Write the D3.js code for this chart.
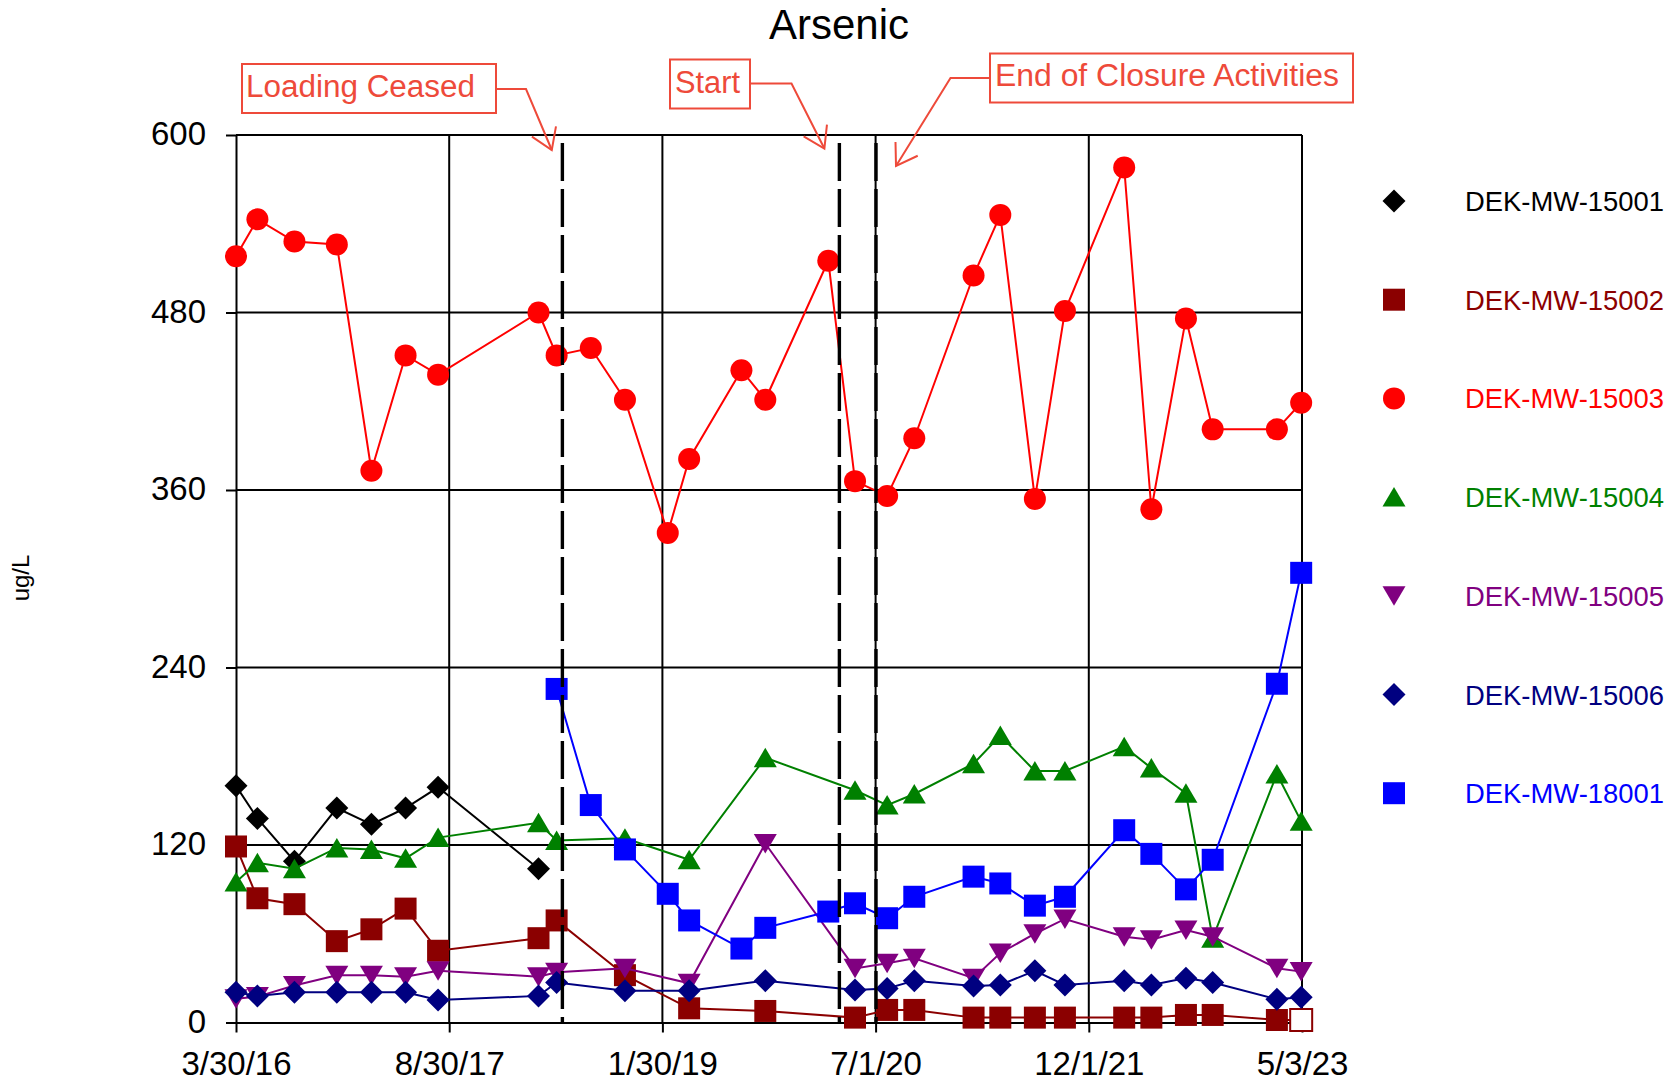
<!DOCTYPE html>
<html>
<head>
<meta charset="utf-8">
<script src="https://cdn.jsdelivr.net/npm/d3@7"></script>
<style>
  body { margin: 0; background: #fff; }
  svg { display: block; }
  text { font-family: "Liberation Sans", Arial, Helvetica, sans-serif; }
</style>
</head>
<body>
<svg id="chart" width="1679" height="1084"></svg>
<script>
// Sampling dates (shared by all wells; null = not sampled / not reported)
const sampleDates = [
  "2016-03-30", "2016-05-21", "2016-08-19", "2016-11-30", "2017-02-22",
  "2017-05-16", "2017-08-03", "2018-04-04", "2018-05-18", "2018-08-09",
  "2018-10-31", "2019-02-12", "2019-04-05", "2019-08-10", "2019-10-07",
  "2020-03-08", "2020-05-12", "2020-07-29", "2020-10-03", "2021-02-24",
  "2021-04-30", "2021-07-23", "2021-10-04", "2022-02-25", "2022-05-02",
  "2022-07-25", "2022-09-28", "2023-03-03", "2023-05-01"
];

// Arsenic, ug/L
const mw15001 = [160, 138, 109, 145, 134, 145, 159, 104,
  null, null, null, null, null, null, null, null, null, null, null, null,
  null, null, null, null, null, null, null, null, null];
const mw15002 = [119, 84, 80, 55, 63, 77, 48.5, 57, 69, null,
  32, null, 9.6, null, 7.8, null, 3.3, 8.5, 8.5, 3.3,
  3.3, 3.3, 3.3, 3.3, 3.3, 5.1, 5.1, 1.7, 1.7];
const mw15003 = [518, 543, 528, 526, 373, 451, 438, 480, 451, 456,
  421, 331, 381, 441, 421, 515, 366, 356, 395, 505,
  546, 354, 481, 578, 347, 476, 401, 401, 419];
const mw15004 = [95, 108, 104, 118, 117, 111, 125, 135, 123, null,
  124.5, null, 110, null, 179, null, 157, 147, 154.5, 175,
  194, 170, 170, 186.5, 172, 155, 57, 168, 136];
const mw15005 = [16, 17.5, 25, 32, 32, 31, 35, 31, 34, null,
  36.6, null, 26.5, null, 121, null, 36.6, 40, 43.4, 30,
  47, 60, 70, 58, 56, 62.5, 58, 36.6, 34.4];
const mw15006 = [20.4, 18, 20.4, 20.4, 20.4, 20.4, 15.2, 18, 27, null,
  21.5, null, 21.5, null, 28.3, null, 22, 23, 28.3, 24.7,
  25.4, 35, 25.4, 28.3, 25.4, 30, 27, 15.7, 17];
const mw18001 = [null, null, null, null, null, null, null, null, 225.5, 147,
  117, 87, 69, 50, 64, 75, 80.6, 70.5, 85, 98.6,
  94, 79, 85, 130, 114, 90, 110, 229, 304];

// Results reported below the detection limit (drawn as hollow markers)
const nonDetect15002 = ["2023-05-01"];

const seriesNames = ["DEK-MW-15001", "DEK-MW-15002", "DEK-MW-15003", "DEK-MW-15004",
  "DEK-MW-15005", "DEK-MW-15006", "DEK-MW-18001"];
const seriesValues = [mw15001, mw15002, mw15003, mw15004, mw15005, mw15006, mw18001];
const seriesNonDetect = [[], nonDetect15002, [], [], [], [], []];

const yTicks = [0, 120, 240, 360, 480, 600];
const xTicks = ["2016-03-30", "2017-08-30", "2019-01-30", "2020-07-01", "2021-12-01", "2023-05-03"];

// Site milestones
const eventLabels = ["Loading Ceased", "Start", "End of Closure Activities"];
const eventDates = ["2018-06-01", "2020-04-04", "2020-07-02"];

// ---- styling ----
const seriesColors = ["#000000", "#8b0000", "#ff0000", "#008000", "#800080", "#000080", "#0000ff"];
const seriesShapes = ["diamond", "square", "circle", "triUp", "triDown", "diamond", "square"];
const noteColor = "#ee4a3a";

const W = 1679, H = 1084;
const plot = { left: 236, right: 1302, top: 135, bottom: 1022.5 };

const parse = d3.timeParse("%Y-%m-%d");
const fmt = d3.timeFormat("%-m/%-d/%y");

const x = d3.scaleTime()
  .domain([parse(xTicks[0]), parse(xTicks[xTicks.length - 1])])
  .range([plot.left, plot.right]);
const y = d3.scaleLinear().domain([0, 600]).range([plot.bottom, plot.top]);

const svg = d3.select("#chart");
svg.append("rect").attr("width", W).attr("height", H).attr("fill", "#fff");

// marker outline generator, centred on (0,0)
function markerPath(shape) {
  switch (shape) {
    case "diamond": return "M0,-11.5L11.5,0L0,11.5L-11.5,0Z";
    case "square": return "M-11,-11H11V11H-11Z";
    case "circle": return "M11,0A11,11 0 1,1 -11,0A11,11 0 1,1 11,0Z";
    case "triUp": return "M0,-10L11.5,9.5L-11.5,9.5Z";
    case "triDown": return "M0,10L11.5,-9.5L-11.5,-9.5Z";
  }
}

// ---- gridlines ----
const grid = svg.append("g").attr("stroke", "#000").attr("stroke-width", 2);
grid.selectAll("line.h").data(yTicks.filter(v => v > 0)).join("line")
  .attr("class", "h")
  .attr("x1", plot.left).attr("x2", plot.right)
  .attr("y1", d => y(d)).attr("y2", d => y(d));
grid.selectAll("line.v").data(xTicks.slice(1)).join("line")
  .attr("class", "v")
  .attr("x1", d => x(parse(d))).attr("x2", d => x(parse(d)))
  .attr("y1", plot.top).attr("y2", plot.bottom);

// ---- axes ----
const yAxis = d3.axisLeft(y).tickValues(yTicks).tickSize(10).tickSizeOuter(0).tickPadding(20);
const xAxis = d3.axisBottom(x).tickValues(xTicks.map(parse)).tickFormat(fmt)
  .tickSize(10).tickSizeOuter(0).tickPadding(20);

const gy = svg.append("g").attr("transform", `translate(${plot.left},0)`).call(yAxis);
const gx = svg.append("g").attr("transform", `translate(0,${plot.bottom})`).call(xAxis);
[gy, gx].forEach(g => {
  g.select(".domain").attr("stroke", "#000").attr("stroke-width", 2);
  g.selectAll(".tick line").attr("stroke", "#000").attr("stroke-width", 2);
  g.selectAll(".tick text").attr("fill", "#000").attr("font-size", 33)
    .attr("font-family", "'Liberation Sans', Arial, sans-serif");
});
gy.selectAll(".tick text").attr("dy", "0.3em");
gx.selectAll(".tick text").attr("dy", "0.68em");

// ---- series ----
const line = d3.line().x(d => x(d.date)).y(d => y(d.v));
seriesNames.forEach((name, i) => {
  const pts = sampleDates.map((d, j) => ({ date: parse(d), key: d, v: seriesValues[i][j] }))
    .filter(p => p.v != null);
  const g = svg.append("g").attr("class", "series");
  g.append("path").datum(pts)
    .attr("d", line)
    .attr("fill", "none")
    .attr("stroke", seriesColors[i])
    .attr("stroke-width", 2);
  g.selectAll("path.mark").data(pts).join("path")
    .attr("class", "mark")
    .attr("transform", d => `translate(${x(d.date)},${y(d.v)})`)
    .attr("d", markerPath(seriesShapes[i]))
    .attr("fill", d => seriesNonDetect[i].includes(d.key) ? "#fff" : seriesColors[i])
    .attr("stroke", d => seriesNonDetect[i].includes(d.key) ? seriesColors[i] : "none")
    .attr("stroke-width", 2);
});

// ---- milestone lines ----
svg.append("g").selectAll("line").data(eventDates).join("line")
  .attr("x1", d => x(parse(d))).attr("x2", d => x(parse(d)))
  .attr("y1", plot.top + 8).attr("y2", plot.bottom)
  .attr("stroke", "#000").attr("stroke-width", 3.4)
  .attr("stroke-dasharray", "38 8");

// ---- milestone callouts ----
const callouts = [
  { box: [242, 64, 254, 49], textX: 246, textY: 96.5, textLen: 229, elbow: "right", stubX: 526, stubY: 89, tipDx: -10.6, tipY: 150 },
  { box: [670, 59.5, 80, 49], textX: 675, textY: 92.5, textLen: 65, elbow: "right", stubX: 791.5, stubY: 83.5, tipDx: -15, tipY: 148.5 },
  { box: [990, 53.5, 363, 49], textX: 995, textY: 85.5, textLen: 344, elbow: "left", stubX: 950.5, stubY: 78, tipDx: 20, tipY: 166 }
];
const notes = svg.append("g").attr("stroke", noteColor).attr("fill", "none").attr("stroke-width", 2);
callouts.forEach((c, i) => {
  const [bx, by, bw, bh] = c.box;
  notes.append("rect").attr("x", bx).attr("y", by).attr("width", bw).attr("height", bh);
  svg.append("text")
    .attr("x", c.textX).attr("y", c.textY)
    .attr("font-size", 31).attr("fill", noteColor)
    .attr("textLength", c.textLen).attr("lengthAdjust", "spacingAndGlyphs")
    .text(eventLabels[i]);
  const startX = c.elbow === "right" ? bx + bw : bx;
  const tipX = x(parse(eventDates[i])) + c.tipDx;
  notes.append("path").attr("d", `M${startX},${c.stubY}H${c.stubX}L${tipX},${c.tipY}`);
  // open arrow head
  const ang = Math.atan2(c.tipY - c.stubY, tipX - c.stubX);
  const len = 24, spread = 33 * Math.PI / 180;
  const a1 = ang + Math.PI - spread, a2 = ang + Math.PI + spread;
  notes.append("path").attr("d",
    `M${tipX + len * Math.cos(a1)},${c.tipY + len * Math.sin(a1)}L${tipX},${c.tipY}L${tipX + len * Math.cos(a2)},${c.tipY + len * Math.sin(a2)}`);
});

// ---- title and axis label ----
svg.append("text").attr("x", 839).attr("y", 39)
  .attr("text-anchor", "middle").attr("font-size", 42).attr("fill", "#000")
  .text("Arsenic");
svg.append("text")
  .attr("transform", "translate(29,578) rotate(-90)")
  .attr("text-anchor", "middle").attr("font-size", 24).attr("fill", "#000")
  .text("ug/L");

// ---- legend ----
const legend = svg.append("g");
seriesNames.forEach((name, i) => {
  const cy = 201 + i * 98.7;
  legend.append("path")
    .attr("transform", `translate(1394,${cy})`)
    .attr("d", markerPath(seriesShapes[i]))
    .attr("fill", seriesColors[i]);
  legend.append("text")
    .attr("x", 1465).attr("y", cy + 10)
    .attr("font-size", 27).attr("fill", seriesColors[i])
    .attr("textLength", 199).attr("lengthAdjust", "spacingAndGlyphs")
    .text(name);
});
</script>
</body>
</html>
